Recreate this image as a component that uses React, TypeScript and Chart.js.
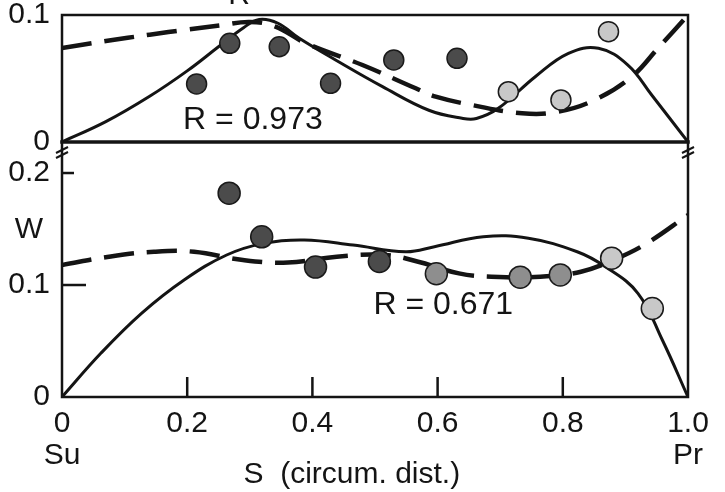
import { useEffect, useRef } from 'react';
import { Chart, registerables } from 'chart.js';
Chart.register(...registerables);

// X axis
const xTickValues = [0, 0.2, 0.4, 0.6, 0.8, 1.0];
const xTickLabels = ['0', '0.2', '0.4', '0.6', '0.8', '1.0'];
const xEndNames = ['Su', 'Pr'];
const xTitle = 'S  (circum. dist.)';

// Top panel (R)
const topTicks = [0, 0.1];
const topDarkS = [0.215, 0.268, 0.347, 0.429, 0.530, 0.631];
const topDarkR = [0.0457, 0.0777, 0.075, 0.0462, 0.0646, 0.0659];
const topLightS = [0.713, 0.797, 0.873];
const topLightR = [0.0396, 0.0331, 0.0869];
const topSolidS = [0, 0.07, 0.14, 0.2, 0.25, 0.29, 0.315, 0.345, 0.379, 0.437, 0.512, 0.586, 0.639, 0.662, 0.697, 0.756, 0.809, 0.857, 0.904, 0.942, 1];
const topSolidR = [0, 0.016, 0.036, 0.056, 0.075, 0.09, 0.0965, 0.0935, 0.0817, 0.0646, 0.0436, 0.025, 0.0187, 0.0185, 0.0265, 0.0514, 0.0698, 0.0738, 0.0606, 0.037, 0];
const topDashS = [0, 0.07, 0.14, 0.2, 0.252, 0.3, 0.34, 0.39, 0.48, 0.565, 0.597, 0.655, 0.735, 0.793, 0.851, 0.91, 0.952, 1];
const topDashR = [0.074, 0.0795, 0.0845, 0.0885, 0.0918, 0.0945, 0.091, 0.0777, 0.0606, 0.0423, 0.0357, 0.0291, 0.0226, 0.0239, 0.0331, 0.0514, 0.0738, 0.1];
const topLabel = 'R = 0.973';

// Bottom panel (W)
const bottomTicks = [0, 0.1, 0.2];
const botDarkS = [0.267, 0.319, 0.405, 0.507];
const botDarkW = [0.182, 0.143, 0.116, 0.121];
const botMidS = [0.598, 0.732, 0.796];
const botMidW = [0.110, 0.107, 0.109];
const botLightS = [0.878, 0.943];
const botLightW = [0.124, 0.079];
const botSolidS = [0, 0.062, 0.127, 0.195, 0.263, 0.322, 0.387, 0.465, 0.549, 0.595, 0.673, 0.745, 0.823, 0.868, 0.92, 0.959, 1];
const botSolidW = [0, 0.039, 0.0747, 0.1045, 0.1268, 0.1372, 0.1402, 0.1357, 0.1297, 0.1342, 0.1431, 0.1417, 0.1297, 0.1163, 0.0926, 0.0509, 0];
const botDashS = [0, 0.075, 0.147, 0.211, 0.289, 0.361, 0.439, 0.517, 0.569, 0.634, 0.686, 0.764, 0.829, 0.881, 0.934, 1];
const botDashW = [0.1179, 0.1253, 0.1297, 0.1297, 0.1223, 0.12, 0.1253, 0.1268, 0.1208, 0.1104, 0.1074, 0.1074, 0.1119, 0.1223, 0.1372, 0.1625];
const bottomLabel = 'R = 0.671';
const bottomAxisName = 'W';
const topAxisName = 'R';

const pts = (xs: number[], ys: number[]) => xs.map((x, i) => ({ x, y: ys[i] }));

const FONT = "'Liberation Sans', Arial, sans-serif";
const INK = '#141414';

const decor = {
  id: 'decor',
  afterDatasetsDraw(chart: any) {
    const { ctx, chartArea: a, scales } = chart;
    const x = scales.x, yT = scales.yT, yB = scales.yB;
    const line = (x1: number, y1: number, x2: number, y2: number) => {
      ctx.beginPath(); ctx.moveTo(x1, y1); ctx.lineTo(x2, y2); ctx.stroke();
    };
    ctx.save();
    ctx.strokeStyle = INK;
    ctx.lineCap = 'square';
    ctx.lineWidth = 2.5;
    ctx.strokeRect(a.left, a.top, a.right - a.left, a.bottom - a.top);
    ctx.lineWidth = 3.5;
    line(a.left, yT.bottom, a.right, yT.bottom);
    ctx.lineWidth = 2.5;
    ctx.lineCap = 'butt';
    [0.2, 0.4, 0.6, 0.8].forEach(v => {
      const px = x.getPixelForValue(v);
      line(px, a.bottom, px, a.bottom - 20);
    });
    line(a.left, yB.getPixelForValue(0.1), a.left + 24, yB.getPixelForValue(0.1));
    line(a.left, yB.getPixelForValue(0.2), a.left + 12, yB.getPixelForValue(0.2));
    // axis break marks
    ctx.lineWidth = 2;
    const by = yB.top + 9;
    [a.left, a.right].forEach(bx => {
      line(bx - 6, by + 2, bx + 6, by - 4);
      line(bx - 6, by + 7, bx + 6, by + 1);
    });
    // texts
    ctx.fillStyle = INK;
    ctx.font = `32px ${FONT}`;
    ctx.textAlign = 'center';
    ctx.textBaseline = 'middle';
    ctx.fillText(topLabel, x.getPixelForValue(0.305), yT.getPixelForValue(0.0173));
    ctx.fillText(bottomLabel, x.getPixelForValue(0.609), yB.getPixelForValue(0.0821));
    ctx.font = `30px ${FONT}`;
    ctx.fillText(bottomAxisName, a.left - 33, yB.getPixelForValue(0.149));
    ctx.fillText(xTitle, x.getPixelForValue(0.463), a.bottom + 78);
    ctx.textBaseline = 'alphabetic';
    ctx.fillText(topAxisName, x.getPixelForValue(0.283), a.top - 11);
    ctx.restore();
  },
};

export default function App() {
  const ref = useRef<HTMLCanvasElement>(null);
  useEffect(() => {
    const dot = (data: any, fill: string, r: number) => ({
      data, showLine: false, pointRadius: r, pointHoverRadius: r,
      pointBackgroundColor: fill, pointBorderColor: '#1a1a1a', pointBorderWidth: 1.5,
    });
    const curve = (data: any, dashed: boolean, yAxisID: string) => ({
      data, yAxisID, showLine: true, pointRadius: 0, pointHoverRadius: 0,
      borderColor: INK, borderWidth: dashed ? 4.5 : 3,
      borderDash: dashed ? [30, 13] : [], tension: 0.4,
      fill: false,
    });
    const tickFont = { family: FONT, size: 30, lineHeight: 1.0 };
    const yCommon = (ticks: number[]) => ({
      type: 'linear' as const,
      position: 'left' as const,
      stack: 'panels',
      afterBuildTicks: (s: any) => { s.ticks = ticks.map(v => ({ value: v })); },
      afterFit: (s: any) => { s.width = 62; s.paddingTop = 0; s.paddingBottom = 0; },
      grid: { display: false, drawTicks: false },
      border: { display: false },
      ticks: {
        color: INK, font: tickFont, padding: 12, autoSkip: false,
        callback: (v: any) => (v === 0 ? '0' : Number(v).toFixed(1)),
      },
    });
    const chart = new Chart(ref.current!, {
      type: 'scatter',
      data: {
        datasets: [
          { ...dot(pts(topDarkS, topDarkR), '#4b4b4b', 10), yAxisID: 'yT' },
          { ...dot(pts(topLightS, topLightR), '#c8c8c8', 10), yAxisID: 'yT' },
          { ...dot(pts(botDarkS, botDarkW), '#4b4b4b', 11), yAxisID: 'yB' },
          { ...dot(pts(botMidS, botMidW), '#8e8e8e', 11), yAxisID: 'yB' },
          { ...dot(pts(botLightS, botLightW), '#c8c8c8', 11), yAxisID: 'yB' },
          curve(pts(topSolidS, topSolidR), false, 'yT'),
          curve(pts(topDashS, topDashR), true, 'yT'),
          curve(pts(botSolidS, botSolidW), false, 'yB'),
          curve(pts(botDashS, botDashW), true, 'yB'),
        ] as any,
      },
      options: {
        responsive: false,
        animation: false,
        events: [],
        layout: { padding: { left: 0, top: 15, right: 37, bottom: 0 } },
        plugins: { legend: { display: false }, tooltip: { enabled: false }, title: { display: false } },
        scales: {
          x: {
            type: 'linear', min: 0, max: 1,
            afterBuildTicks: (s: any) => { s.ticks = xTickValues.map(v => ({ value: v })); },
            afterFit: (s: any) => { s.height = 95; s.paddingLeft = 0; s.paddingRight = 0; },
            grid: { display: false, drawTicks: false },
            border: { display: false },
            ticks: {
              color: INK, font: { family: FONT, size: 30, lineHeight: 1.07 }, padding: 11,
              autoSkip: false, maxRotation: 0,
              callback: (v: any) => {
                const i = xTickValues.indexOf(Number(v));
                if (i === 0) return [xTickLabels[i], xEndNames[0]];
                if (i === xTickValues.length - 1) return [xTickLabels[i], xEndNames[1]];
                return xTickLabels[i];
              },
            },
          },
          yB: { ...yCommon(bottomTicks), min: 0, max: 0.2277, stackWeight: 255, weight: 0 },
          yT: { ...yCommon(topTicks), min: 0, max: 0.1, stackWeight: 127, weight: 1 },
        } as any,
      },
      plugins: [decor],
    });
    return () => chart.destroy();
  }, []);
  return (
    <div style={{ position: 'absolute', left: 0, top: 0, width: 725, height: 492, background: '#fff' }}>
      <canvas ref={ref} width={725} height={492} style={{ display: 'block' }} />
    </div>
  );
}
